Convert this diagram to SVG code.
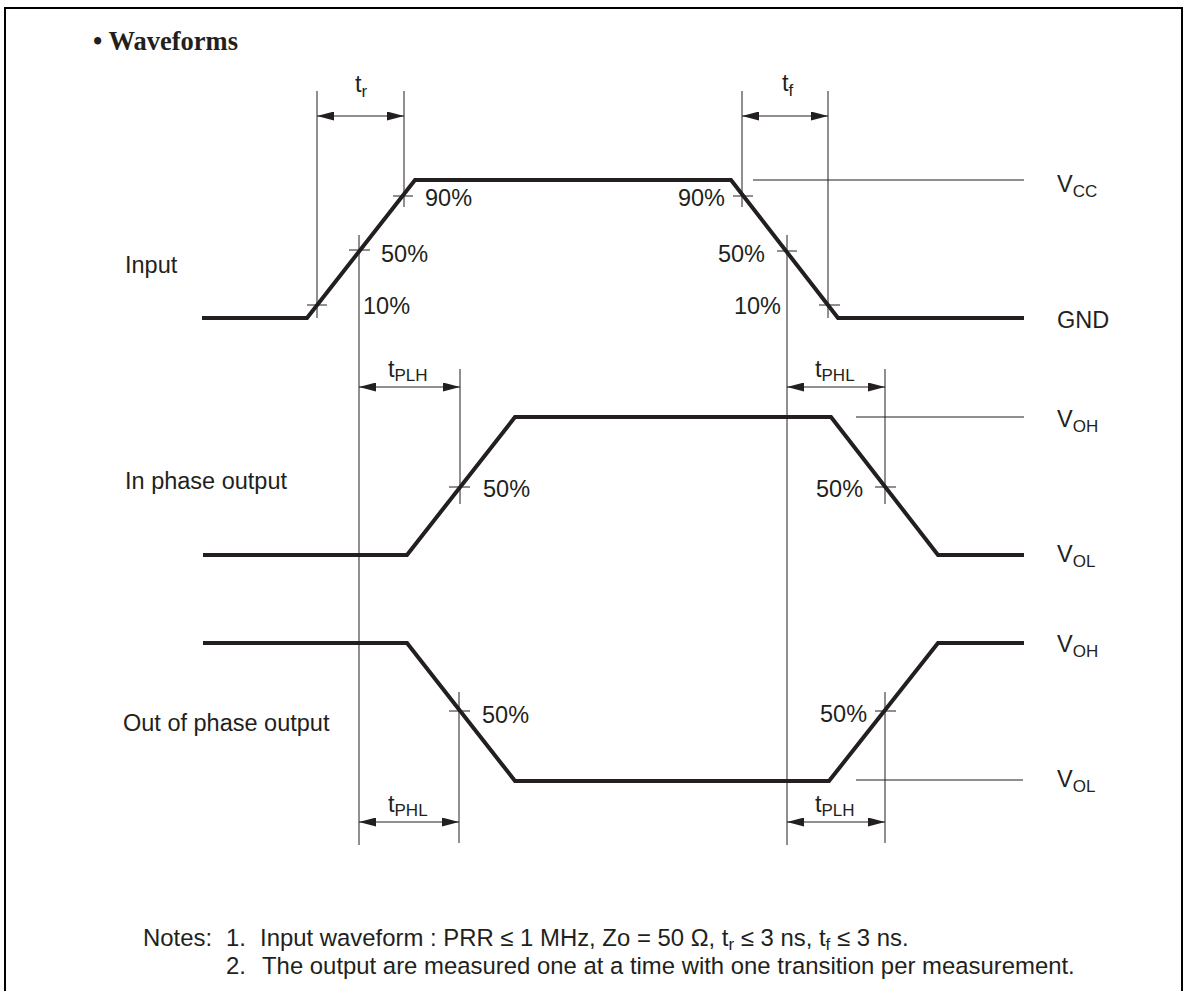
<svg xmlns="http://www.w3.org/2000/svg" width="1187" height="991" viewBox="0 0 1187 991">
<defs>
<style>
.wave{fill:none;stroke:#231f20;stroke-width:4;stroke-linejoin:miter}
.thin{fill:none;stroke:#231f20;stroke-width:1}
.frame{fill:none;stroke:#000;stroke-width:2}
.dim{fill:none;stroke:#231f20;stroke-width:1;marker-start:url(#arr);marker-end:url(#arr)}
text{font-family:"Liberation Sans",Arial,sans-serif;font-size:23.5px;fill:#231f20}
.sub{font-size:17px}
.note{font-size:23.9px}
.title{font-family:"Liberation Serif","Times New Roman",serif;font-weight:bold;font-size:26.5px}
.end{text-anchor:end}
</style>
<marker id="arr" viewBox="0 0 17 9" refX="17" refY="4.5" markerWidth="17" markerHeight="9" markerUnits="userSpaceOnUse" orient="auto-start-reverse"><path d="M0,0L17,4.5L0,9z" fill="#231f20"/></marker>
</defs>
<rect width="1187" height="991" fill="#fff"/>
<path class="frame" d="M5,991V8H1182V991"/>
<text class="title" x="93" y="50">• Waveforms</text>

<g id="input">
<path class="wave" d="M202,318H307L415,180H731L838,318H1024"/>
<text x="125" y="273">Input</text>
<text x="425" y="206">90%</text>
<text x="381" y="262">50%</text>
<text x="363" y="314">10%</text>
<text class="end" x="725" y="206">90%</text>
<text class="end" x="765" y="262">50%</text>
<text class="end" x="781" y="314">10%</text>
<text x="1057" y="192">V<tspan class="sub" dy="5">CC</tspan></text>
<text x="1057" y="328">GND</text>
</g>

<g id="inphase">
<path class="wave" d="M203,555H407L515,417H831L938,555H1024"/>
<text x="125" y="489">In phase output</text>
<text x="483" y="497">50%</text>
<text x="816" y="497">50%</text>
<text x="1057" y="427">V<tspan class="sub" dy="5">OH</tspan></text>
<text x="1057" y="562">V<tspan class="sub" dy="5">OL</tspan></text>
</g>

<g id="outphase">
<path class="wave" d="M203,643H407L515,781H829L938,643H1024"/>
<text x="123" y="731">Out of phase output</text>
<text x="482" y="723">50%</text>
<text x="820" y="722">50%</text>
<text x="1057" y="652">V<tspan class="sub" dy="5">OH</tspan></text>
<text x="1057" y="787">V<tspan class="sub" dy="5">OL</tspan></text>
</g>

<g id="connectors">
<path class="thin" d="M393,196H413M349,250H370M307,305H327M733,196H753M777,251H797M819,305H840"/>
<path class="thin" d="M317,91V318M404,91V207M359,235V845M742,91V207M787,235V845M828,91V318"/>
<path class="thin" d="M753,180H1024M856,417H1024M856,780H1023"/>
<path class="thin" d="M460,369V504M449,487H470M885,369V504M875,487H896"/>
<path class="thin" d="M459,692V843M449,711H470M885,692V843M875,711H896"/>
<path class="dim" d="M317,116H404"/>
<path class="dim" d="M742,116H828"/>
<path class="dim" d="M359,387H460"/>
<path class="dim" d="M787,387H885"/>
<path class="dim" d="M359,822H459"/>
<path class="dim" d="M787,822H885"/>
<text x="355" y="92">t<tspan class="sub" dy="5">r</tspan></text>
<text x="782" y="91">t<tspan class="sub" dy="5">f</tspan></text>
<text x="388" y="377">t<tspan class="sub" dy="4">PLH</tspan></text>
<text x="815" y="377">t<tspan class="sub" dy="4">PHL</tspan></text>
<text x="388" y="812">t<tspan class="sub" dy="4">PHL</tspan></text>
<text x="815" y="812">t<tspan class="sub" dy="4">PLH</tspan></text>
</g>

<g id="notes">
<text class="note" x="143" y="946">Notes:</text>
<text class="note" x="226" y="946">1.</text>
<text class="note" x="260" y="946">Input waveform : PRR ≤ 1 MHz, Zo = 50 Ω, t<tspan class="sub" dy="4">r</tspan><tspan dy="-4"> ≤ 3 ns, t</tspan><tspan class="sub" dy="4">f</tspan><tspan dy="-4"> ≤ 3 ns.</tspan></text>
<text class="note" x="226" y="974">2.</text>
<text class="note" x="262" y="974">The output are measured one at a time with one transition per measurement.</text>
</g>
</svg>
